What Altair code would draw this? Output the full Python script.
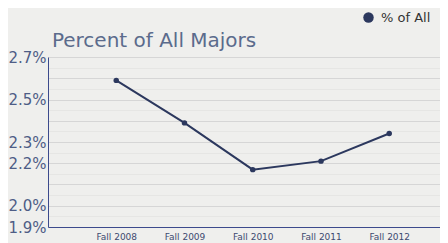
import altair as alt
import pandas as pd

terms = [2008, 2009, 2010, 2011, 2012]
pct_of_all = [2.59, 2.39, 2.17, 2.21, 2.34]
series_name = "% of All"
y_label_values = ["2.7", "2.5", "2.3", "2.2", "2.0", "1.9"]
y_grid_values = [1.9, 1.95, 2.0, 2.05, 2.1, 2.15, 2.2, 2.25, 2.3, 2.35, 2.4, 2.45, 2.5, 2.55, 2.6, 2.65, 2.7]

df = pd.DataFrame({"term": terms, "pct": pct_of_all, "series": series_name})

label_list = "[" + ",".join("'" + v + "'" for v in y_label_values) + "]"
label_expr = (
    f"indexof({label_list}, format(datum.value, '.1f')) >= 0 && abs(datum.value*10 - round(datum.value*10)) < 0.01"
    f" ? format(datum.value, '.1f') + '%' : ''"
)
grid_test = "abs(datum.value*10 - round(datum.value*10)) < 0.01"

navy = "#2c385e"

chart = (
    alt.Chart(df)
    .mark_line(
        strokeWidth=2,
        point=alt.OverlayMarkDef(filled=True, size=30, color="#222a44"),
    )
    .encode(
        x=alt.X(
            "term:Q",
            scale=alt.Scale(domain=[2007, 2012.744], nice=False, zero=False),
            axis=alt.Axis(
                values=terms,
                labelExpr="'Fall ' + datum.value",
                title=None,
                grid=False,
                ticks=False,
                labelFont="DejaVu Sans",
                labelFontSize=9,
                labelColor="#3d4a70",
                labelPadding=5,
                domainColor="#3c4a8c",
                domainWidth=1,
            ),
        ),
        y=alt.Y(
            "pct:Q",
            scale=alt.Scale(domain=[1.9, 2.7], nice=False, zero=False),
            axis=alt.Axis(
                values=y_grid_values,
                labelExpr=label_expr,
                title=None,
                ticks=False,
                labelFont="DejaVu Sans",
                labelFontSize=15,
                labelColor="#4e5d86",
                labelPadding=2,
                labelOverlap=False,
                labelBound=False,
                labelFlush=False,
                domainColor="#3c4a8c",
                domainWidth=1,
                gridColor=alt.condition(grid_test, alt.value("#d6d6d6"), alt.value("#e6e6e4")),
                gridWidth=1,
            ),
        ),
        color=alt.Color(
            "series:N",
            scale=alt.Scale(range=[navy]),
            legend=alt.Legend(
                title=None,
                orient="none",
                legendX=314,
                legendY=-46,
                symbolType="circle",
                symbolSize=110,
                symbolFillColor="#2d3a6a",
                symbolStrokeWidth=0,
                labelFont="DejaVu Sans",
                labelFontSize=13,
                labelColor="#333333",
                labelOffset=6,
            ),
        ),
    )
    .properties(
        width=392,
        height=170,
        title=alt.Title(
            "Percent of All Majors",
            anchor="start",
            font="DejaVu Sans",
            fontSize=20,
            fontWeight="normal",
            color="#5b6b8c",
            offset=6,
            dx=44,
            dy=46,
        ),
        autosize=alt.AutoSizeParams(type="none"),
        padding={"left": 40, "top": 49, "right": 0, "bottom": 16},
        background="#efefed",
    )
    .configure_view(stroke=None, fill="#efefed")
)

chart.save("out.html", embed_options={"renderer": "svg", "actions": False})
